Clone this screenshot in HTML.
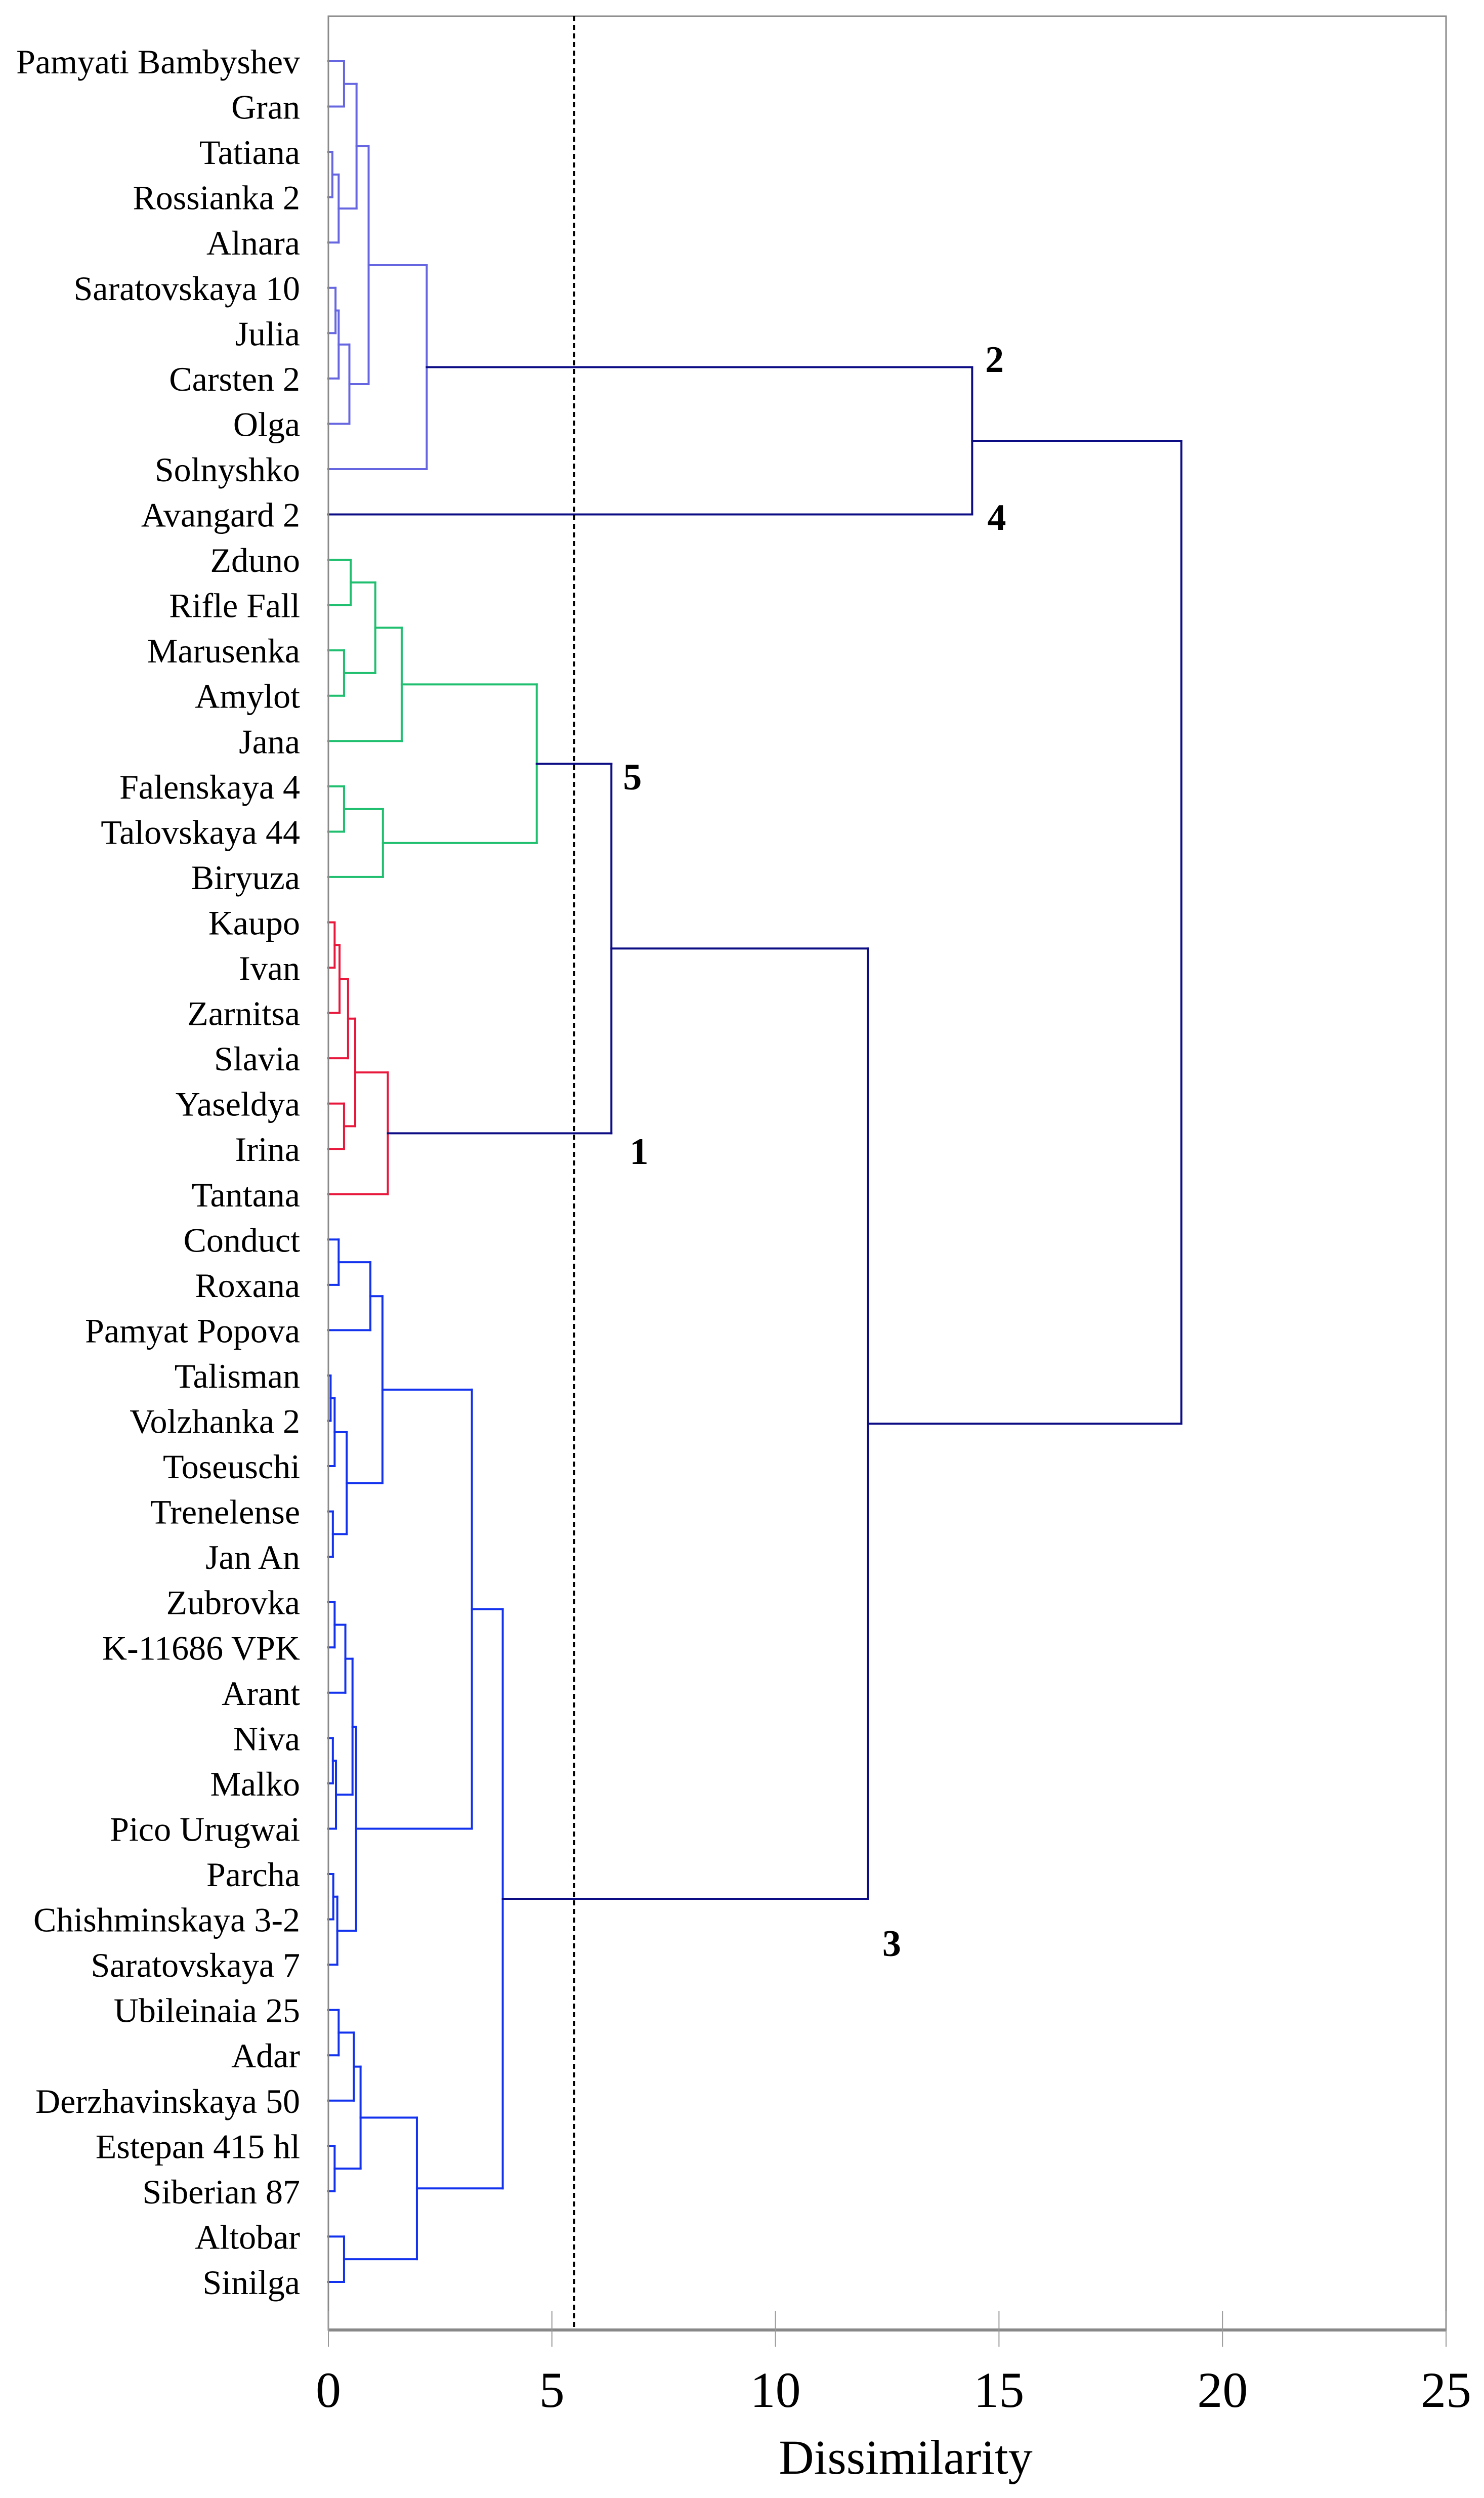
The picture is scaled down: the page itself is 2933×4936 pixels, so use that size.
<!DOCTYPE html>
<html><head><meta charset="utf-8">
<style>
html,body{margin:0;padding:0;background:#fff;}
svg{display:block;}
text{font-family:"Liberation Serif","Times New Roman",serif;}
</style></head>
<body>
<svg id="chart" width="2933" height="4936" viewBox="0 0 2933 4936" xmlns="http://www.w3.org/2000/svg">
<rect x="0" y="0" width="2933" height="4936" fill="#fff"/>
<g id="links"></g>
<g id="labels"></g>
<g id="axis"></g>
</svg>
<script>
const leaves = ["Pamyati Bambyshev","Gran","Tatiana","Rossianka 2","Alnara","Saratovskaya 10","Julia","Carsten 2","Olga","Solnyshko","Avangard 2",
"Zduno","Rifle Fall","Marusenka","Amylot","Jana","Falenskaya 4","Talovskaya 44","Biryuza",
"Kaupo","Ivan","Zarnitsa","Slavia","Yaseldya","Irina","Tantana",
"Conduct","Roxana","Pamyat Popova","Talisman","Volzhanka 2","Toseuschi","Trenelense","Jan An",
"Zubrovka","K-11686 VPK","Arant","Niva","Malko","Pico Urugwai","Parcha","Chishminskaya 3-2","Saratovskaya 7",
"Ubileinaia 25","Adar","Derzhavinskaya 50","Estepan 415 hl","Siberian 87","Altobar","Sinilga"];
const mergeLeft=[0,2,51,50,5,54,55,53,57,58, 11,13,60,62,16,64,63, 19,67,68,23,69,71,66,
 26,74,29,76,32,77,75, 34,81,37,83,82, 40,86,85, 80, 43,90,46,91,48,93, 89,73,59];
const mergeRight=[1,3,4,52,6,7,8,56,9,10, 12,14,61,15,17,18,65, 20,21,22,24,70,25,72,
 27,28,30,31,33,78,79, 35,36,38,39,84, 41,42,87, 88, 44,45,47,92,49,94, 95,96,97];
const mergeHeight= [0.35,0.09,0.23,0.63,0.16,0.23,0.47,0.9,2.2,14.4, 0.5,0.35,1.05,1.64,0.35,1.22,4.66, 0.14,0.25,0.44,0.35,0.6,1.33,6.33,
 0.23,0.94,0.05,0.14,0.1,0.41,1.21, 0.14,0.38,0.1,0.17,0.54, 0.11,0.2,0.62, 3.21, 0.23,0.57,0.14,0.72,0.35,1.98, 3.9,12.07,19.08];
const mergeGroup = ["p","p","p","p","p","p","p","p","p","n", "g","g","g","g","g","g","g", "r","r","r","r","r","r","n",
 "b","b","b","b","b","b","b","b","b","b","b","b","b","b","b","b","b","b","b","b","b","b","b","n","n"];
const xTicks = [0,5,10,15,20,25];
const cutValue = 5.5;
const clusterLabels = ["2","4","5","1","3"];
const clusterLabelPos = [[14.9,735],[14.95,1047],[6.8,1560],[6.95,2300],[12.6,3865]];
</script>
<script>
(function(){
const NS="http://www.w3.org/2000/svg";
const colors={p:"#6666e0",n:"#0c0c85",g:"#1fbf6f",r:"#e8183c",b:"#1232ee"};
const X0=649,X1=2858,Y0=32,Y1=4604,vmax=25;
const xs=v=>X0+(X1-X0)*v/vmax;
const rowY=i=>121+i*89.55;
const nodes=[];
for(let i=0;i<leaves.length;i++) nodes.push({y:rowY(i),h:0});
const links=document.getElementById('links');
function line(x1,y1,x2,y2,c,name){
 const l=document.createElementNS(NS,'line');
 l.setAttribute('x1',x1);l.setAttribute('y1',y1);l.setAttribute('x2',x2);l.setAttribute('y2',y2);
 l.setAttribute('stroke',c);l.setAttribute('stroke-width',4);l.setAttribute('stroke-linecap','square');
 
 
 links.appendChild(l);
}
for(let k=0;k<mergeLeft.length;k++){
 const a=nodes[mergeLeft[k]],b=nodes[mergeRight[k]],h=mergeHeight[k],c=colors[mergeGroup[k]];
 const xh=xs(h);
 line(xs(a.h),a.y,xh,a.y,c,'link-branch');
 line(xs(b.h),b.y,xh,b.y,c,'link-branch');
 line(xh,a.y,xh,b.y,c,'link-join');
 nodes.push({y:(a.y+b.y)/2,h:h});
}
const lab=document.getElementById('labels');
leaves.forEach((n,i)=>{
 const t=document.createElementNS(NS,'text');
 t.setAttribute('x',593);t.setAttribute('y',rowY(i)+24);
 t.setAttribute('text-anchor','end');t.setAttribute('font-size',68);
 t.textContent=n;
 
 
 lab.appendChild(t);
});
clusterLabels.forEach((s,i)=>{
 const t=document.createElementNS(NS,'text');
 t.setAttribute('x',xs(clusterLabelPos[i][0]));t.setAttribute('y',clusterLabelPos[i][1]);
 t.setAttribute('text-anchor','middle');t.setAttribute('font-size',74);t.setAttribute('font-weight','bold');
 t.textContent=s;
 
 
 lab.appendChild(t);
});
const ax=document.getElementById('axis');
const fr=document.createElementNS(NS,'rect');
fr.setAttribute('x',X0);fr.setAttribute('y',Y0);fr.setAttribute('width',X1-X0);fr.setAttribute('height',Y1-Y0);
fr.setAttribute('fill','none');fr.setAttribute('stroke','#8a8a8a');fr.setAttribute('stroke-width',3);


ax.appendChild(fr);
const bl=document.createElementNS(NS,'line');
bl.setAttribute('x1',X0);bl.setAttribute('x2',X1);bl.setAttribute('y1',Y1);bl.setAttribute('y2',Y1);
bl.setAttribute('stroke','#888');bl.setAttribute('stroke-width',6);


ax.appendChild(bl);
const cut=document.createElementNS(NS,'line');
cut.setAttribute('x1',xs(cutValue));cut.setAttribute('x2',xs(cutValue));cut.setAttribute('y1',Y0);cut.setAttribute('y2',Y1);
cut.setAttribute('stroke','#000');cut.setAttribute('stroke-width',4);cut.setAttribute('stroke-dasharray','10 7');


ax.appendChild(cut);
xTicks.forEach(v=>{
 const tk=document.createElementNS(NS,'line');
 tk.setAttribute('x1',xs(v));tk.setAttribute('x2',xs(v));tk.setAttribute('y1',Y1-37);tk.setAttribute('y2',Y1+33);
 tk.setAttribute('stroke','#999');tk.setAttribute('stroke-width',2);
 
 
 ax.appendChild(tk);
 const t=document.createElementNS(NS,'text');
 t.setAttribute('x',xs(v));t.setAttribute('y',4756);t.setAttribute('text-anchor','middle');t.setAttribute('font-size',100);
 t.textContent=String(v);
 
 
 ax.appendChild(t);
});
const tt=document.createElementNS(NS,'text');
tt.setAttribute('x',1790);tt.setAttribute('y',4888);tt.setAttribute('text-anchor','middle');tt.setAttribute('font-size',96);
tt.textContent='Dissimilarity';


ax.appendChild(tt);
})();
</script>
</body></html>
